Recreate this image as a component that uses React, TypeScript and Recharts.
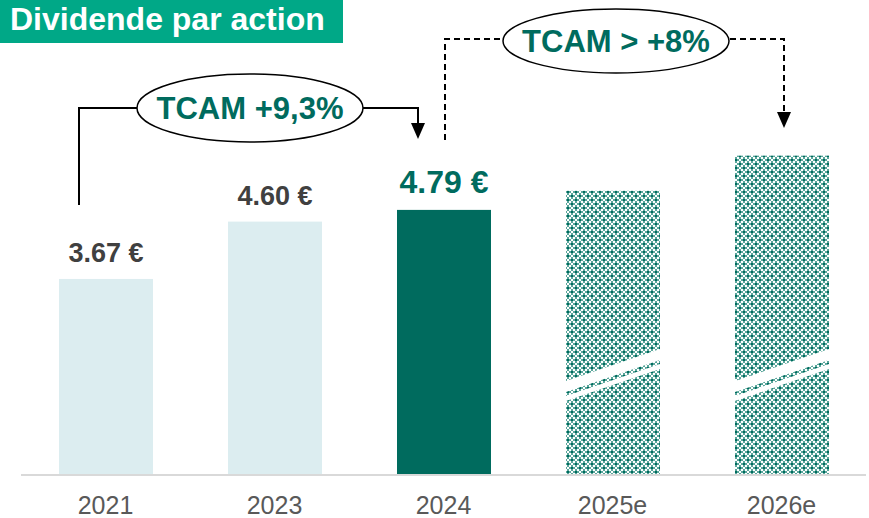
import React from "react";
import { Bar, BarChart, LabelList, XAxis, YAxis } from "recharts";

// Dividend per share, estimates for 2025e / 2026e
const years = ["2021", "2023", "2024", "2025e", "2026e"];
const dividends = [3.67, 4.6, 4.79, 5.1, 5.67];
const valueLabels = ["3.67 €", "4.60 €", "4.79 €", "", ""];
const barKinds = ["past", "past", "current", "estimate", "estimate"];

const chartData = years.map((year, i) => ({
  year,
  dividend: dividends[i],
  label: valueLabels[i],
  kind: barKinds[i],
}));

const TEAL = "#006b5e";
const MID = "#5aa69b";
const LIGHT = "#dcedf0";
const FONT = "'Liberation Sans', Arial, sans-serif";
const NARROW = "'Liberation Sans Narrow', 'Arial Narrow', 'Liberation Sans', sans-serif";

// lattice cell centres inside one 8x8 pattern tile (corners repeat for wrap-around)
const latticeCentres = [
  [0, 0],
  [8, 0],
  [0, 8],
  [8, 8],
  [4, 4],
];

function DividendBar(props: any) {
  const { x, y, width, height, index } = props;
  const kind = barKinds[index];
  if (kind !== "estimate") {
    return (
      <rect x={x} y={y} width={width} height={height} fill={kind === "current" ? TEAL : LIGHT} />
    );
  }
  const base = y + height;
  const r = x + width;
  return (
    <g>
      <rect x={x} y={y} width={width} height={height} fill="url(#estPattern)" />
      {/* break marks */}
      <polygon
        points={`${x},${base - 94} ${r},${base - 126} ${r},${base - 115} ${x},${base - 83}`}
        fill="#fff"
      />
      <polygon
        points={`${x},${base - 79} ${r},${base - 111} ${r},${base - 106} ${x},${base - 74}`}
        fill="#fff"
      />
    </g>
  );
}

function ValueLabel(props: any) {
  const { x, y, width, index } = props;
  const text = valueLabels[index];
  if (!text) return null;
  const current = barKinds[index] === "current";
  return (
    <text
      x={x + width / 2}
      y={y - 17}
      textAnchor="middle"
      fontFamily={FONT}
      fontWeight="bold"
      fontSize={current ? 32 : 27}
      fill={current ? TEAL : "#404040"}
    >
      {text}
    </text>
  );
}

function YearTick(props: any) {
  const { x, y, payload } = props;
  return (
    <text x={x} y={y + 37} textAnchor="middle" fontFamily={NARROW} fontSize={25} fill="#595959">
      {payload.value}
    </text>
  );
}

export default function App() {
  return (
    <div style={{ position: "absolute", left: 0, top: 0, width: 869, height: 518, background: "#fff" }}>
      <BarChart
        width={869}
        height={518}
        data={chartData}
        margin={{ top: 12, right: 3, bottom: 0, left: 21 }}
      >
        <defs>
          <pattern id="estPattern" width="8" height="8" patternUnits="userSpaceOnUse">
            <rect width="8" height="8" fill="#fff" />
            {latticeCentres.map(([cx, cy], i) => (
              <g key={i}>
                <rect x={cx - 3} y={cy - 1} width={2} height={2} fill={MID} />
                <rect x={cx + 1} y={cy - 1} width={2} height={2} fill={MID} />
                <rect x={cx - 1} y={cy - 3} width={2} height={2} fill={MID} />
                <rect x={cx - 1} y={cy + 1} width={2} height={2} fill={MID} />
                <rect x={cx - 1} y={cy - 1} width={2} height={2} fill={TEAL} />
              </g>
            ))}
          </pattern>
        </defs>
        <XAxis
          dataKey="year"
          height={43}
          axisLine={{ stroke: "#d9d9d9", strokeWidth: 2 }}
          tickLine={false}
          tickSize={0}
          tick={<YearTick />}
          interval={0}
        />
        <YAxis hide domain={[0.49, 8]} />
        <Bar dataKey="dividend" barSize={94} isAnimationActive={false} shape={<DividendBar />}>
          <LabelList dataKey="label" content={<ValueLabel />} />
        </Bar>
      </BarChart>

      {/* title */}
      <div
        style={{
          position: "absolute",
          left: 0,
          top: 0,
          width: 333,
          height: 43,
          paddingLeft: 10,
          background: "#00a887",
          color: "#fff",
          fontFamily: FONT,
          fontWeight: "bold",
          fontSize: 32,
          lineHeight: "38px",
          whiteSpace: "nowrap",
        }}
      >
        Dividende par action
      </div>

      {/* CAGR annotations */}
      <svg
        width={869}
        height={518}
        style={{ position: "absolute", left: 0, top: 0, pointerEvents: "none" }}
      >
        <g stroke="#000" strokeWidth={2} fill="none">
          <polyline points="79,205 79,108 137,108" />
          <polyline points="363,108 418,108 418,124" />
        </g>
        <polygon points="411,123 425,123 418,139" fill="#000" />
        <ellipse cx={250} cy={108} rx={113} ry={34} fill="#fff" stroke="#000" strokeWidth={1.5} />
        <text x={250} y={119} textAnchor="middle" fontFamily={FONT} fontWeight="bold" fontSize={31} fill={TEAL}>
          TCAM +9,3%
        </text>

        <g stroke="#000" strokeWidth={2} fill="none" strokeDasharray="6 4">
          <polyline points="445,140 445,39 503,39" />
          <polyline points="730,39 784,39 784,113" />
        </g>
        <polygon points="777,112 791,112 784,128" fill="#000" />
        <ellipse cx={616} cy={41} rx={113} ry={32} fill="#fff" stroke="#000" strokeWidth={1.5} />
        <text x={616} y={52} textAnchor="middle" fontFamily={FONT} fontWeight="bold" fontSize={31} fill={TEAL}>
          TCAM &gt; +8%
        </text>
      </svg>
    </div>
  );
}
